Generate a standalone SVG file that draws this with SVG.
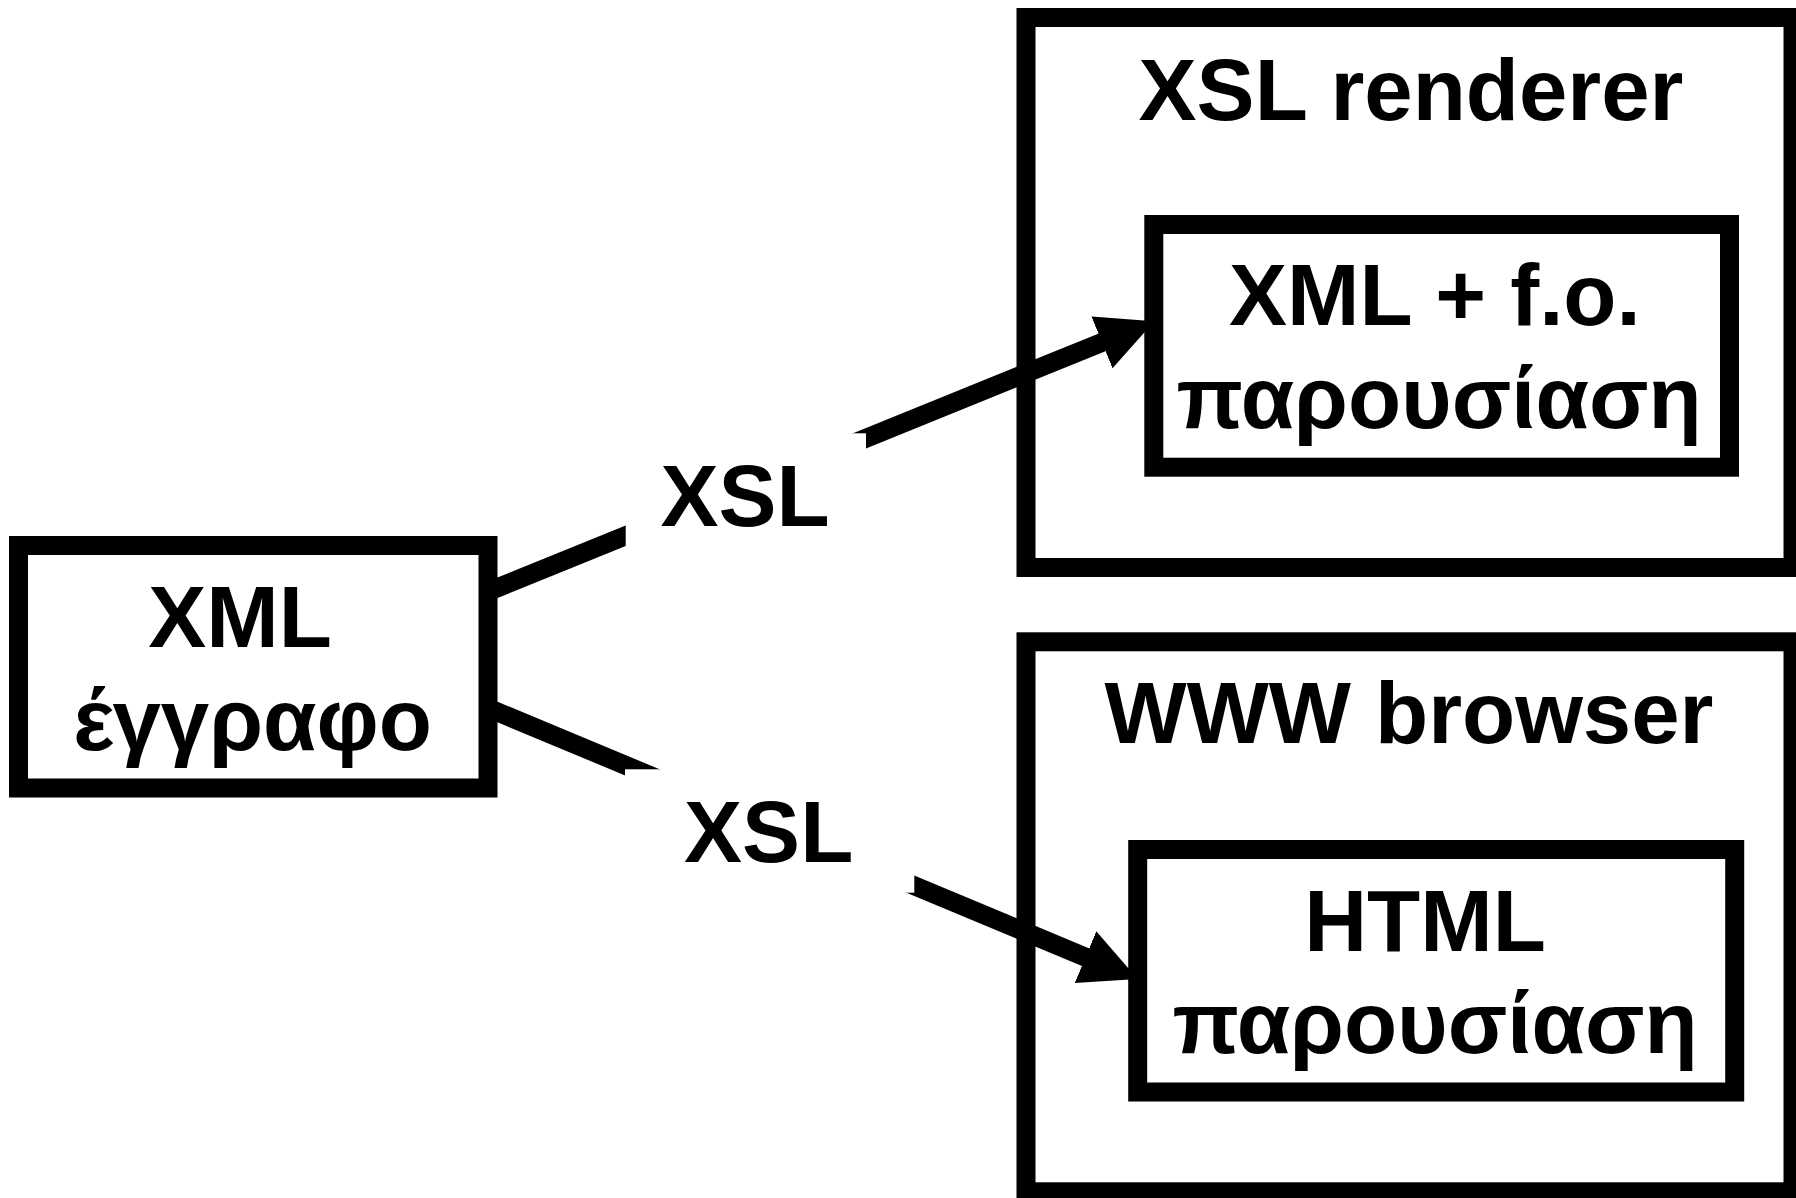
<svg xmlns="http://www.w3.org/2000/svg" width="1796" height="1198" viewBox="0 0 1796 1198">
<style>
.box{fill:#fff;stroke:#000;stroke-width:19}
.t{font-family:"Liberation Sans",Arial,Helvetica,sans-serif;font-weight:bold;font-size:87px;fill:#000}
.m{text-anchor:middle}
.conn{fill:none;stroke:#000;stroke-width:19;stroke-linecap:butt}
.mask{fill:#fff;stroke:none}
</style>
<defs>
<marker id="arrow" markerUnits="userSpaceOnUse" markerWidth="60" markerHeight="60" refX="36.5" refY="28" orient="auto">
<path d="M0,0 L56.5,28 L0,56 Z" fill="#000"/>
</marker>
</defs>
<rect width="1796" height="1198" fill="#fff"/>
<g id="xml-doc">
<rect class="box" x="18.5" y="545.5" width="469.5" height="242.5"/>
<text class="t m" x="240" y="647">XML</text>
<text class="t m" x="252.5" y="750">έγγραφο</text>
</g>
<g id="xsl-renderer">
<rect class="box" x="1026" y="17.5" width="767" height="550"/>
<text class="t m" x="1411" y="120">XSL renderer</text>
</g>
<g id="fo-presentation">
<rect class="box" x="1153.8" y="224.5" width="575.7" height="242.7"/>
<text class="t" x="1229" y="325">XML + f.o.</text>
<text class="t m" x="1439" y="428">παρουσίαση</text>
</g>
<g id="www-browser">
<rect class="box" x="1026" y="641.8" width="767" height="550"/>
<text class="t m" x="1409" y="742.7">WWW browser</text>
</g>
<g id="html-presentation">
<rect class="box" x="1137.7" y="849.5" width="597" height="242.5"/>
<text class="t m" x="1425" y="950.7">HTML</text>
<text class="t m" x="1435" y="1053">παρουσίαση</text>
</g>
<g id="connectors">
<path class="conn" d="M488,591.6 L1135.8,328.7" marker-end="url(#arrow)"/>
<path class="conn" d="M488,708 L1119.2,971.2" marker-end="url(#arrow)"/>
</g>
<g id="labels">
<g id="label-xsl-1">
<rect class="mask" x="625.7" y="433.3" width="240.3" height="123.4"/>
<text class="t m" x="745" y="525.7">XSL</text>
</g>
<g id="label-xsl-2">
<rect class="mask" x="625" y="769.3" width="289.3" height="123.4"/>
<text class="t m" x="768.7" y="861.7">XSL</text>
</g>
</g>
</svg>
